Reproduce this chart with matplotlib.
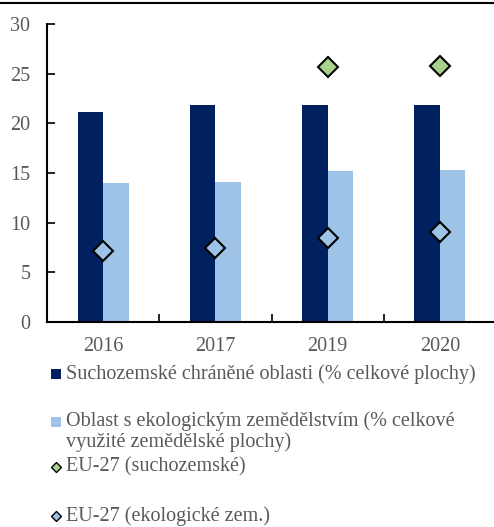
import matplotlib
matplotlib.use("Agg")
import matplotlib.pyplot as plt
from matplotlib.lines import Line2D
from matplotlib.patches import Rectangle
import numpy as np

years = ["2016", "2017", "2019", "2020"]
protected = [21.1, 21.8, 21.85, 21.85]
organic = [14.0, 14.1, 15.2, 15.3]
eu_land = [np.nan, np.nan, 25.7, 25.75]
eu_organic = [7.1, 7.5, 8.5, 9.1]
yticks = [0, 5, 10, 15, 20, 25, 30]

legend_labels = [
    "Suchozemské chráněné oblasti (% celkové plochy)",
    "Oblast s ekologickým zemědělstvím (% celkové\nvyužité zemědělské plochy)",
    "EU-27 (suchozemské)",
    "EU-27 (ekologické zem.)",
]

DARK = "#002060"
LIGHT = "#9DC3E6"
GREEN = "#A9D18E"
GRAY = "#595959"
FONT = ["Liberation Serif", "DejaVu Serif"]

W, H = 494, 527
fig = plt.figure(figsize=(W / 100, H / 100), dpi=100)
plt.rcParams["font.family"] = FONT

ax = fig.add_axes([47 / W, (H - 322) / H, 449 / W, 298 / H])
x = np.arange(len(years))
bw = 0.227
ax.bar(x, protected, width=-bw, align="edge", color=DARK, zorder=2)
ax.bar(x, organic, width=bw, align="edge", color=LIGHT, zorder=2)
ax.plot(x, eu_land, linestyle="none", marker="D", markersize=10,
        markerfacecolor=GREEN, markeredgecolor="black", markeredgewidth=1.5, zorder=3)
ax.plot(x, eu_organic, linestyle="none", marker="D", markersize=10,
        markerfacecolor=LIGHT, markeredgecolor="black", markeredgewidth=1.5, zorder=3)

ax.set_xlim(-0.5, len(years) - 0.5)
ax.set_ylim(0, 30)
ax.set_yticks(yticks)
ax.set_yticklabels([str(t) for t in yticks])
ax.set_xticks(x)
ax.set_xticklabels(years)
ax.set_xticks(np.arange(len(years) - 1) + 0.5, minor=True)
ax.tick_params(axis="x", which="major", length=0, pad=10.5, labelsize=14.5, labelcolor=GRAY)
ax.tick_params(axis="x", which="minor", direction="in", length=6, width=1.2, color="black")
ax.tick_params(axis="y", direction="in", length=6, width=1.2, pad=12, labelsize=14.5,
               labelcolor=GRAY, color="black")
for lab in ax.get_xticklabels() + ax.get_yticklabels():
    lab.set_family(FONT)
for s in ["top", "right"]:
    ax.spines[s].set_visible(False)
for s in ["left", "bottom"]:
    ax.spines[s].set_linewidth(1.5)
    ax.spines[s].set_color("black")

# top border line
fig.add_artist(Line2D([0, 1], [1 - 2.5 / H, 1 - 2.5 / H], transform=fig.transFigure,
                      color="black", linewidth=1.5))

# legend
rows_y = [374, 432, 467, 516]
mx = 56
tx = 66
for i, (lab, yy) in enumerate(zip(legend_labels, rows_y)):
    yf = 1 - yy / H
    if i < 2:
        col = DARK if i == 0 else LIGHT
        ymark = yy if i == 0 else 422
        fig.add_artist(Rectangle(((mx - 5) / W, 1 - (ymark + 5) / H), 10 / W, 10 / H,
                                 transform=fig.transFigure, facecolor=col, edgecolor="none"))
        fig.text(tx / W, yf, lab, ha="left", va="center", fontsize=14.5, color=GRAY,
                 family=FONT, linespacing=1.1)
    else:
        fc = GREEN if i == 2 else LIGHT
        fig.add_artist(Line2D([mx / W], [yf], transform=fig.transFigure, marker="D",
                              markersize=4.6, markerfacecolor=fc, markeredgecolor="black",
                              markeredgewidth=1.0, linestyle="none"))
        fig.text(tx / W, yf, lab, ha="left", va="center", fontsize=14.5, color=GRAY,
                 family=FONT)

fig.savefig("out.png", dpi=100)
